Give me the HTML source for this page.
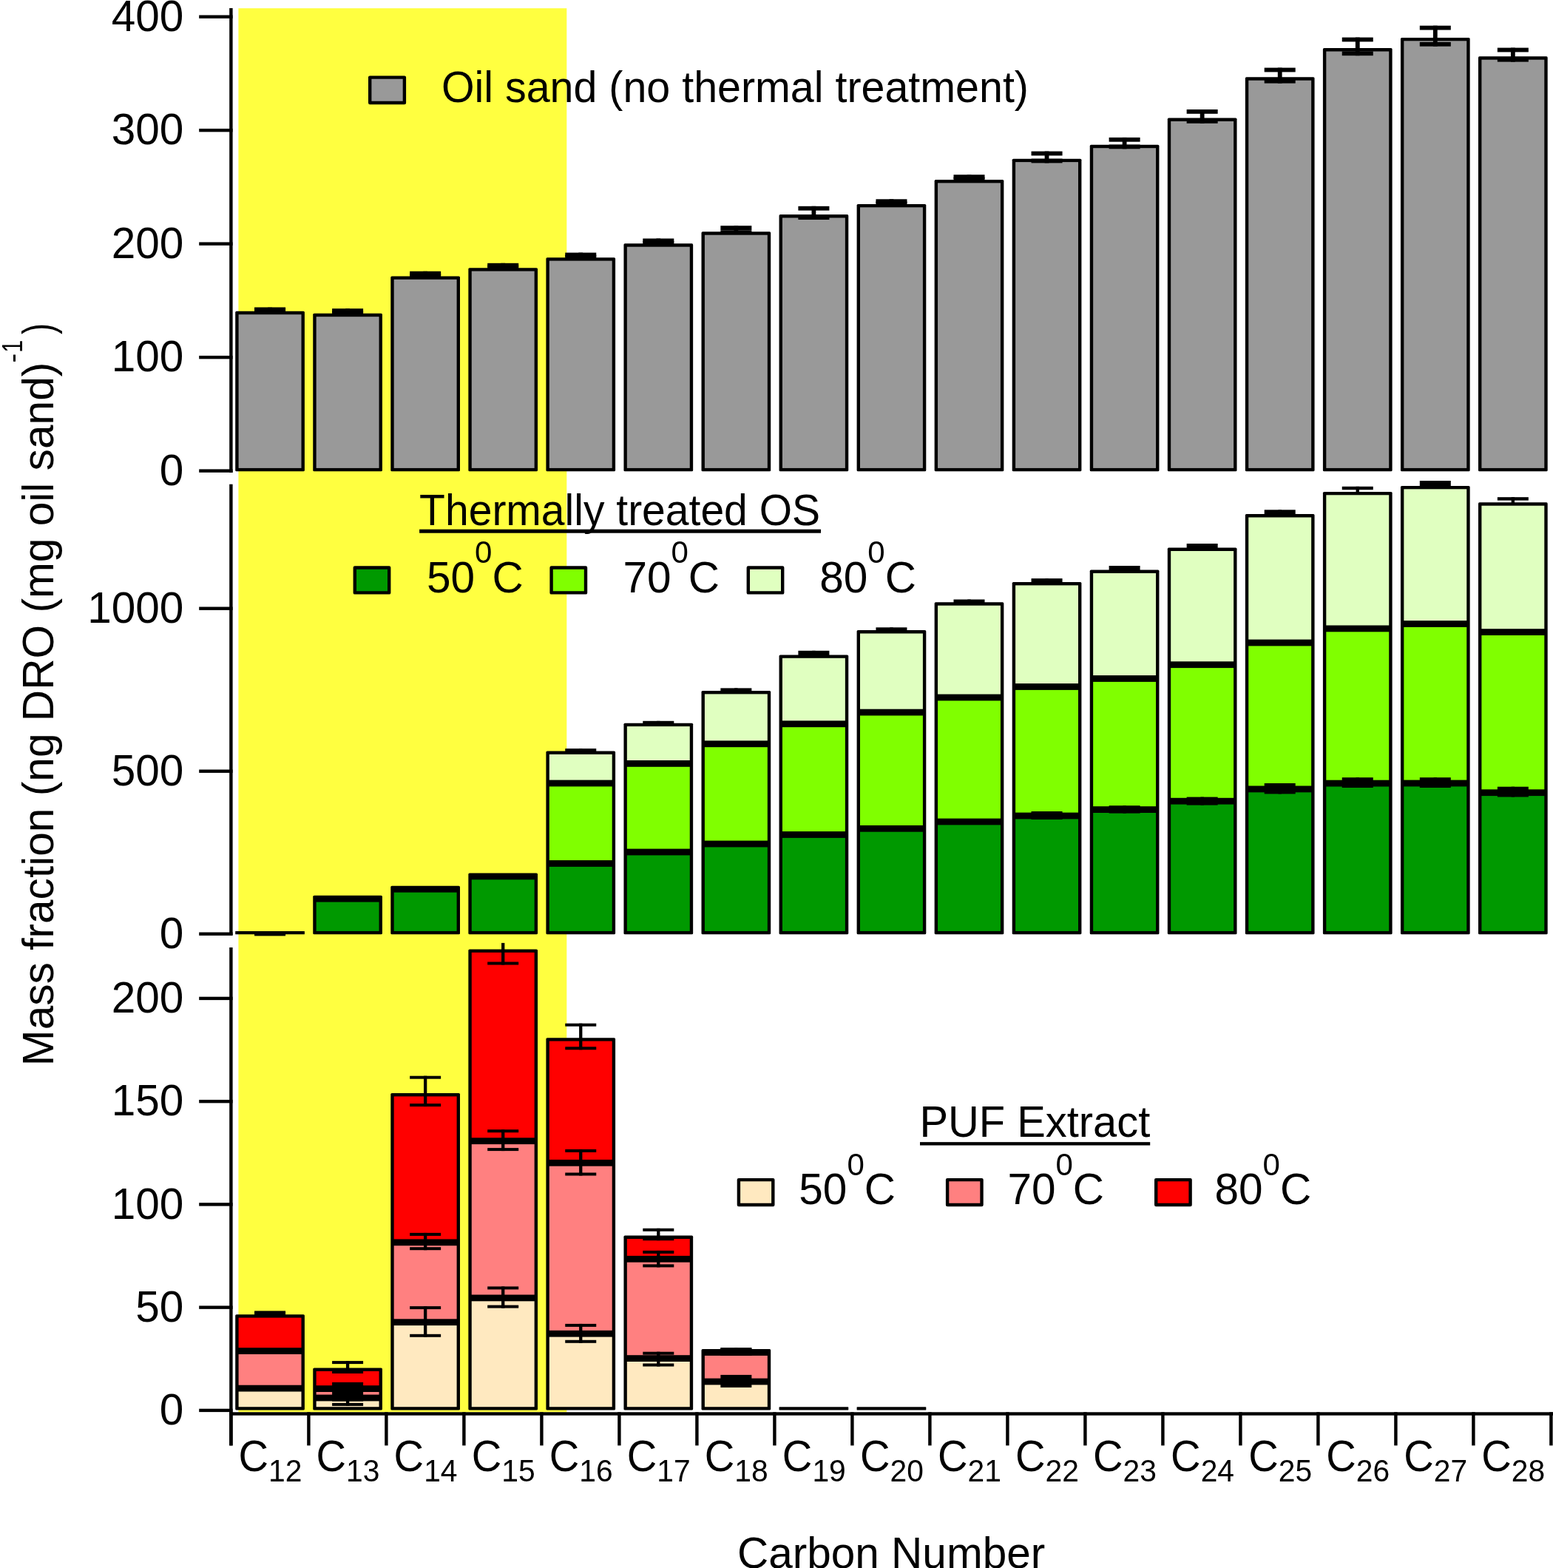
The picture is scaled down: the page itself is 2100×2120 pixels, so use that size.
<!DOCTYPE html><html><head><meta charset="utf-8"><title>Mass fraction chart</title><style>html,body{margin:0;padding:0;background:#fff;}svg{display:block;}</style></head><body><svg width="2100" height="2120" viewBox="0 0 2100 2120">
<rect x="0" y="0" width="2100" height="2120" fill="#fff"/>
<rect x="322.40" y="11.20" width="443.90" height="1898.30" fill="#FFFF40"/>
<rect x="318.20" y="420.80" width="93.70" height="216.50" rx="1.6" fill="#000"/>
<rect x="322.60" y="425.20" width="84.90" height="207.70" fill="#999999"/>
<rect x="423.25" y="423.80" width="93.70" height="213.50" rx="1.6" fill="#000"/>
<rect x="427.65" y="428.20" width="84.90" height="204.70" fill="#999999"/>
<rect x="528.30" y="373.40" width="93.70" height="263.90" rx="1.6" fill="#000"/>
<rect x="532.70" y="377.80" width="84.90" height="255.10" fill="#999999"/>
<rect x="633.35" y="362.20" width="93.70" height="275.10" rx="1.6" fill="#000"/>
<rect x="637.75" y="366.60" width="84.90" height="266.30" fill="#999999"/>
<rect x="738.40" y="348.20" width="93.70" height="289.10" rx="1.6" fill="#000"/>
<rect x="742.80" y="352.60" width="84.90" height="280.30" fill="#999999"/>
<rect x="843.45" y="329.30" width="93.70" height="308.00" rx="1.6" fill="#000"/>
<rect x="847.85" y="333.70" width="84.90" height="299.20" fill="#999999"/>
<rect x="948.50" y="313.30" width="93.70" height="324.00" rx="1.6" fill="#000"/>
<rect x="952.90" y="317.70" width="84.90" height="315.20" fill="#999999"/>
<rect x="1053.55" y="290.10" width="93.70" height="347.20" rx="1.6" fill="#000"/>
<rect x="1057.95" y="294.50" width="84.90" height="338.40" fill="#999999"/>
<rect x="1158.60" y="275.90" width="93.70" height="361.40" rx="1.6" fill="#000"/>
<rect x="1163.00" y="280.30" width="84.90" height="352.60" fill="#999999"/>
<rect x="1263.65" y="243.00" width="93.70" height="394.30" rx="1.6" fill="#000"/>
<rect x="1268.05" y="247.40" width="84.90" height="385.50" fill="#999999"/>
<rect x="1368.70" y="214.70" width="93.70" height="422.60" rx="1.6" fill="#000"/>
<rect x="1373.10" y="219.10" width="84.90" height="413.80" fill="#999999"/>
<rect x="1473.75" y="195.80" width="93.70" height="441.50" rx="1.6" fill="#000"/>
<rect x="1478.15" y="200.20" width="84.90" height="432.70" fill="#999999"/>
<rect x="1578.80" y="159.60" width="93.70" height="477.70" rx="1.6" fill="#000"/>
<rect x="1583.20" y="164.00" width="84.90" height="468.90" fill="#999999"/>
<rect x="1683.85" y="104.30" width="93.70" height="533.00" rx="1.6" fill="#000"/>
<rect x="1688.25" y="108.70" width="84.90" height="524.20" fill="#999999"/>
<rect x="1788.90" y="65.10" width="93.70" height="572.20" rx="1.6" fill="#000"/>
<rect x="1793.30" y="69.50" width="84.90" height="563.40" fill="#999999"/>
<rect x="1893.95" y="50.90" width="93.70" height="586.40" rx="1.6" fill="#000"/>
<rect x="1898.35" y="55.30" width="84.90" height="577.60" fill="#999999"/>
<rect x="1999.00" y="76.30" width="93.70" height="561.00" rx="1.6" fill="#000"/>
<rect x="2003.40" y="80.70" width="84.90" height="552.20" fill="#999999"/>
<rect x="362.15" y="415.70" width="5.80" height="5.80" fill="#000"/>
<rect x="344.05" y="415.70" width="42.00" height="5.80" fill="#000"/>
<rect x="344.05" y="415.70" width="42.00" height="5.80" fill="#000"/>
<rect x="467.20" y="417.20" width="5.80" height="8.80" fill="#000"/>
<rect x="449.10" y="417.20" width="42.00" height="5.80" fill="#000"/>
<rect x="449.10" y="420.20" width="42.00" height="5.80" fill="#000"/>
<rect x="572.25" y="366.80" width="5.80" height="8.80" fill="#000"/>
<rect x="554.15" y="366.80" width="42.00" height="5.80" fill="#000"/>
<rect x="554.15" y="369.80" width="42.00" height="5.80" fill="#000"/>
<rect x="677.30" y="355.80" width="5.80" height="8.40" fill="#000"/>
<rect x="659.20" y="355.80" width="42.00" height="5.80" fill="#000"/>
<rect x="659.20" y="358.40" width="42.00" height="5.80" fill="#000"/>
<rect x="782.35" y="341.60" width="5.80" height="8.80" fill="#000"/>
<rect x="764.25" y="341.60" width="42.00" height="5.80" fill="#000"/>
<rect x="764.25" y="344.60" width="42.00" height="5.80" fill="#000"/>
<rect x="887.40" y="322.50" width="5.80" height="9.20" fill="#000"/>
<rect x="869.30" y="322.50" width="42.00" height="5.80" fill="#000"/>
<rect x="869.30" y="325.90" width="42.00" height="5.80" fill="#000"/>
<rect x="992.45" y="305.20" width="5.80" height="11.80" fill="#000"/>
<rect x="974.35" y="305.20" width="42.00" height="5.80" fill="#000"/>
<rect x="974.35" y="311.20" width="42.00" height="5.80" fill="#000"/>
<rect x="1097.50" y="278.80" width="5.80" height="18.20" fill="#000"/>
<rect x="1079.40" y="278.80" width="42.00" height="5.80" fill="#000"/>
<rect x="1079.40" y="291.20" width="42.00" height="5.80" fill="#000"/>
<rect x="1202.55" y="269.30" width="5.80" height="8.80" fill="#000"/>
<rect x="1184.45" y="269.30" width="42.00" height="5.80" fill="#000"/>
<rect x="1184.45" y="272.30" width="42.00" height="5.80" fill="#000"/>
<rect x="1307.60" y="236.20" width="5.80" height="9.20" fill="#000"/>
<rect x="1289.50" y="236.20" width="42.00" height="5.80" fill="#000"/>
<rect x="1289.50" y="239.60" width="42.00" height="5.80" fill="#000"/>
<rect x="1412.65" y="204.60" width="5.80" height="15.80" fill="#000"/>
<rect x="1394.55" y="204.60" width="42.00" height="5.80" fill="#000"/>
<rect x="1394.55" y="214.60" width="42.00" height="5.80" fill="#000"/>
<rect x="1517.70" y="185.90" width="5.80" height="15.40" fill="#000"/>
<rect x="1499.60" y="185.90" width="42.00" height="5.80" fill="#000"/>
<rect x="1499.60" y="195.50" width="42.00" height="5.80" fill="#000"/>
<rect x="1622.75" y="148.00" width="5.80" height="18.80" fill="#000"/>
<rect x="1604.65" y="148.00" width="42.00" height="5.80" fill="#000"/>
<rect x="1604.65" y="161.00" width="42.00" height="5.80" fill="#000"/>
<rect x="1727.80" y="91.60" width="5.80" height="21.00" fill="#000"/>
<rect x="1709.70" y="91.60" width="42.00" height="5.80" fill="#000"/>
<rect x="1709.70" y="106.80" width="42.00" height="5.80" fill="#000"/>
<rect x="1832.85" y="50.60" width="5.80" height="24.60" fill="#000"/>
<rect x="1814.75" y="50.60" width="42.00" height="5.80" fill="#000"/>
<rect x="1814.75" y="69.40" width="42.00" height="5.80" fill="#000"/>
<rect x="1937.90" y="34.70" width="5.80" height="28.00" fill="#000"/>
<rect x="1919.80" y="34.70" width="42.00" height="5.80" fill="#000"/>
<rect x="1919.80" y="56.90" width="42.00" height="5.80" fill="#000"/>
<rect x="2042.95" y="64.60" width="5.80" height="19.00" fill="#000"/>
<rect x="2024.85" y="64.60" width="42.00" height="5.80" fill="#000"/>
<rect x="2024.85" y="77.80" width="42.00" height="5.80" fill="#000"/>
<rect x="318.20" y="1258.90" width="93.70" height="4.40" rx="0.6" fill="#000"/>
<rect x="344.05" y="1262.0" width="42" height="3.4" fill="#000"/>
<rect x="423.25" y="1210.80" width="93.70" height="52.50" rx="1.6" fill="#000"/>
<rect x="427.65" y="1219.60" width="84.90" height="39.30" fill="#009900"/>
<rect x="528.30" y="1197.80" width="93.70" height="65.50" rx="1.6" fill="#000"/>
<rect x="532.70" y="1206.60" width="84.90" height="52.30" fill="#009900"/>
<rect x="633.35" y="1180.50" width="93.70" height="82.80" rx="1.6" fill="#000"/>
<rect x="637.75" y="1189.30" width="84.90" height="69.60" fill="#009900"/>
<rect x="738.40" y="1015.50" width="93.70" height="247.80" rx="1.6" fill="#000"/>
<rect x="742.80" y="1171.90" width="84.90" height="87.00" fill="#009900"/>
<rect x="742.80" y="1063.40" width="84.90" height="99.70" fill="#80FF00"/>
<rect x="742.80" y="1019.90" width="84.90" height="34.70" fill="#E0FFC0"/>
<rect x="843.45" y="977.70" width="93.70" height="285.60" rx="1.6" fill="#000"/>
<rect x="847.85" y="1156.40" width="84.90" height="102.50" fill="#009900"/>
<rect x="847.85" y="1036.80" width="84.90" height="110.80" fill="#80FF00"/>
<rect x="847.85" y="982.10" width="84.90" height="45.90" fill="#E0FFC0"/>
<rect x="948.50" y="934.00" width="93.70" height="329.30" rx="1.6" fill="#000"/>
<rect x="952.90" y="1145.40" width="84.90" height="113.50" fill="#009900"/>
<rect x="952.90" y="1010.20" width="84.90" height="126.40" fill="#80FF00"/>
<rect x="952.90" y="938.40" width="84.90" height="63.00" fill="#E0FFC0"/>
<rect x="1053.55" y="885.40" width="93.70" height="377.90" rx="1.6" fill="#000"/>
<rect x="1057.95" y="1132.90" width="84.90" height="126.00" fill="#009900"/>
<rect x="1057.95" y="983.20" width="84.90" height="140.90" fill="#80FF00"/>
<rect x="1057.95" y="889.80" width="84.90" height="84.60" fill="#E0FFC0"/>
<rect x="1158.60" y="852.10" width="93.70" height="411.20" rx="1.6" fill="#000"/>
<rect x="1163.00" y="1124.70" width="84.90" height="134.20" fill="#009900"/>
<rect x="1163.00" y="967.50" width="84.90" height="148.40" fill="#80FF00"/>
<rect x="1163.00" y="856.50" width="84.90" height="102.20" fill="#E0FFC0"/>
<rect x="1263.65" y="814.30" width="93.70" height="449.00" rx="1.6" fill="#000"/>
<rect x="1268.05" y="1115.40" width="84.90" height="143.50" fill="#009900"/>
<rect x="1268.05" y="947.40" width="84.90" height="159.20" fill="#80FF00"/>
<rect x="1268.05" y="818.70" width="84.90" height="119.90" fill="#E0FFC0"/>
<rect x="1368.70" y="787.00" width="93.70" height="476.30" rx="1.6" fill="#000"/>
<rect x="1373.10" y="1107.40" width="84.90" height="151.50" fill="#009900"/>
<rect x="1373.10" y="932.90" width="84.90" height="165.70" fill="#80FF00"/>
<rect x="1373.10" y="791.40" width="84.90" height="132.70" fill="#E0FFC0"/>
<rect x="1473.75" y="770.60" width="93.70" height="492.70" rx="1.6" fill="#000"/>
<rect x="1478.15" y="1099.00" width="84.90" height="159.90" fill="#009900"/>
<rect x="1478.15" y="921.90" width="84.90" height="168.30" fill="#80FF00"/>
<rect x="1478.15" y="775.00" width="84.90" height="138.10" fill="#E0FFC0"/>
<rect x="1578.80" y="740.60" width="93.70" height="522.70" rx="1.6" fill="#000"/>
<rect x="1583.20" y="1087.60" width="84.90" height="171.30" fill="#009900"/>
<rect x="1583.20" y="903.10" width="84.90" height="175.70" fill="#80FF00"/>
<rect x="1583.20" y="745.00" width="84.90" height="149.30" fill="#E0FFC0"/>
<rect x="1683.85" y="695.10" width="93.70" height="568.20" rx="1.6" fill="#000"/>
<rect x="1688.25" y="1071.30" width="84.90" height="187.60" fill="#009900"/>
<rect x="1688.25" y="873.40" width="84.90" height="189.10" fill="#80FF00"/>
<rect x="1688.25" y="699.50" width="84.90" height="165.10" fill="#E0FFC0"/>
<rect x="1788.90" y="664.90" width="93.70" height="598.40" rx="1.6" fill="#000"/>
<rect x="1793.30" y="1063.50" width="84.90" height="195.40" fill="#009900"/>
<rect x="1793.30" y="854.30" width="84.90" height="200.40" fill="#80FF00"/>
<rect x="1793.30" y="669.30" width="84.90" height="176.20" fill="#E0FFC0"/>
<rect x="1893.95" y="656.90" width="93.70" height="606.40" rx="1.6" fill="#000"/>
<rect x="1898.35" y="1063.40" width="84.90" height="195.50" fill="#009900"/>
<rect x="1898.35" y="847.90" width="84.90" height="206.70" fill="#80FF00"/>
<rect x="1898.35" y="661.30" width="84.90" height="177.80" fill="#E0FFC0"/>
<rect x="1999.00" y="679.30" width="93.70" height="584.00" rx="1.6" fill="#000"/>
<rect x="2003.40" y="1076.10" width="84.90" height="182.80" fill="#009900"/>
<rect x="2003.40" y="859.00" width="84.90" height="208.30" fill="#80FF00"/>
<rect x="2003.40" y="683.70" width="84.90" height="166.50" fill="#E0FFC0"/>
<rect x="783.05" y="1012.10" width="4.4" height="5.40" fill="#000"/>
<rect x="764.25" y="1012.10" width="42" height="4.40" fill="#000"/>
<rect x="888.10" y="974.80" width="4.4" height="4.90" fill="#000"/>
<rect x="869.30" y="974.80" width="42" height="3.90" fill="#000"/>
<rect x="993.15" y="930.40" width="4.4" height="5.60" fill="#000"/>
<rect x="974.35" y="930.40" width="42" height="4.60" fill="#000"/>
<rect x="1098.20" y="879.80" width="4.4" height="7.60" fill="#000"/>
<rect x="1079.40" y="879.80" width="42" height="6.60" fill="#000"/>
<rect x="1203.25" y="848.30" width="4.4" height="5.80" fill="#000"/>
<rect x="1184.45" y="848.30" width="42" height="4.80" fill="#000"/>
<rect x="1308.30" y="810.50" width="4.4" height="5.80" fill="#000"/>
<rect x="1289.50" y="810.50" width="42" height="4.80" fill="#000"/>
<rect x="1413.35" y="782.10" width="4.4" height="6.90" fill="#000"/>
<rect x="1394.55" y="782.10" width="42" height="5.90" fill="#000"/>
<rect x="1518.40" y="765.00" width="4.4" height="7.60" fill="#000"/>
<rect x="1499.60" y="765.00" width="42" height="6.60" fill="#000"/>
<rect x="1623.45" y="735.00" width="4.4" height="7.60" fill="#000"/>
<rect x="1604.65" y="735.00" width="42" height="6.60" fill="#000"/>
<rect x="1728.50" y="689.30" width="4.4" height="7.80" fill="#000"/>
<rect x="1709.70" y="689.30" width="42" height="6.80" fill="#000"/>
<rect x="1833.55" y="657.80" width="4.4" height="9.10" fill="#000"/>
<rect x="1814.75" y="657.80" width="42" height="4.40" fill="#000"/>
<rect x="1938.60" y="650.00" width="4.4" height="8.90" fill="#000"/>
<rect x="1919.80" y="650.00" width="42" height="7.90" fill="#000"/>
<rect x="2043.65" y="672.20" width="4.4" height="9.10" fill="#000"/>
<rect x="2024.85" y="672.20" width="42" height="4.40" fill="#000"/>
<rect x="1413.35" y="1097.00" width="4.40" height="11.00" fill="#000"/>
<rect x="1394.55" y="1097.00" width="42.00" height="4.40" fill="#000"/>
<rect x="1394.55" y="1103.60" width="42.00" height="4.40" fill="#000"/>
<rect x="1518.40" y="1089.20" width="4.40" height="10.40" fill="#000"/>
<rect x="1499.60" y="1089.20" width="42.00" height="4.40" fill="#000"/>
<rect x="1499.60" y="1095.20" width="42.00" height="4.40" fill="#000"/>
<rect x="1623.45" y="1077.60" width="4.40" height="11.00" fill="#000"/>
<rect x="1604.65" y="1077.60" width="42.00" height="4.40" fill="#000"/>
<rect x="1604.65" y="1084.20" width="42.00" height="4.40" fill="#000"/>
<rect x="1728.50" y="1059.00" width="4.40" height="14.40" fill="#000"/>
<rect x="1709.70" y="1059.00" width="42.00" height="4.40" fill="#000"/>
<rect x="1709.70" y="1069.00" width="42.00" height="4.40" fill="#000"/>
<rect x="1833.55" y="1051.20" width="4.40" height="13.80" fill="#000"/>
<rect x="1814.75" y="1051.20" width="42.00" height="4.40" fill="#000"/>
<rect x="1814.75" y="1060.60" width="42.00" height="4.40" fill="#000"/>
<rect x="1938.60" y="1051.20" width="4.40" height="13.80" fill="#000"/>
<rect x="1919.80" y="1051.20" width="42.00" height="4.40" fill="#000"/>
<rect x="1919.80" y="1060.60" width="42.00" height="4.40" fill="#000"/>
<rect x="2043.65" y="1063.70" width="4.40" height="13.80" fill="#000"/>
<rect x="2024.85" y="1063.70" width="42.00" height="4.40" fill="#000"/>
<rect x="2024.85" y="1073.10" width="42.00" height="4.40" fill="#000"/>
<rect x="318.20" y="1777.20" width="93.70" height="129.40" rx="1.6" fill="#000"/>
<rect x="322.60" y="1881.50" width="84.90" height="20.70" fill="#FFE9C0"/>
<rect x="322.60" y="1831.00" width="84.90" height="41.70" fill="#FF8080"/>
<rect x="322.60" y="1781.60" width="84.90" height="40.60" fill="#FF0000"/>
<rect x="423.25" y="1849.50" width="93.70" height="57.10" rx="1.6" fill="#000"/>
<rect x="427.65" y="1894.40" width="84.90" height="7.80" fill="#FFE9C0"/>
<rect x="427.65" y="1882.00" width="84.90" height="3.60" fill="#FF8080"/>
<rect x="427.65" y="1853.90" width="84.90" height="19.30" fill="#FF0000"/>
<rect x="528.30" y="1478.00" width="93.70" height="428.60" rx="1.6" fill="#000"/>
<rect x="532.70" y="1792.10" width="84.90" height="110.10" fill="#FFE9C0"/>
<rect x="532.70" y="1684.20" width="84.90" height="99.10" fill="#FF8080"/>
<rect x="532.70" y="1482.40" width="84.90" height="193.00" fill="#FF0000"/>
<rect x="633.35" y="1283.40" width="93.70" height="623.20" rx="1.6" fill="#000"/>
<rect x="637.75" y="1759.30" width="84.90" height="142.90" fill="#FFE9C0"/>
<rect x="637.75" y="1547.10" width="84.90" height="203.40" fill="#FF8080"/>
<rect x="637.75" y="1287.80" width="84.90" height="250.50" fill="#FF0000"/>
<rect x="738.40" y="1403.20" width="93.70" height="503.40" rx="1.6" fill="#000"/>
<rect x="742.80" y="1807.60" width="84.90" height="94.60" fill="#FFE9C0"/>
<rect x="742.80" y="1576.70" width="84.90" height="222.10" fill="#FF8080"/>
<rect x="742.80" y="1407.60" width="84.90" height="160.30" fill="#FF0000"/>
<rect x="843.45" y="1670.60" width="93.70" height="236.00" rx="1.6" fill="#000"/>
<rect x="847.85" y="1841.00" width="84.90" height="61.20" fill="#FFE9C0"/>
<rect x="847.85" y="1706.70" width="84.90" height="125.50" fill="#FF8080"/>
<rect x="847.85" y="1675.00" width="84.90" height="22.90" fill="#FF0000"/>
<rect x="948.50" y="1824.10" width="93.70" height="82.50" rx="1.6" fill="#000"/>
<rect x="952.90" y="1872.40" width="84.90" height="29.80" fill="#FFE9C0"/>
<rect x="952.90" y="1832.90" width="84.90" height="30.70" fill="#FF8080"/>
<rect x="1053.55" y="1902.20" width="93.70" height="4.40" rx="0.6" fill="#000"/>
<rect x="1158.60" y="1902.20" width="93.70" height="4.40" rx="0.6" fill="#000"/>
<rect x="362.90" y="1774.00" width="4.30" height="2.40" fill="#000"/>
<rect x="344.05" y="1774.00" width="42.00" height="4.00" fill="#000"/>
<rect x="344.05" y="1772.40" width="42.00" height="4.00" fill="#000"/>
<rect x="467.95" y="1840.10" width="4.30" height="16.90" fill="#000"/>
<rect x="449.10" y="1840.10" width="42.00" height="4.00" fill="#000"/>
<rect x="449.10" y="1853.00" width="42.00" height="4.00" fill="#000"/>
<rect x="467.95" y="1878.00" width="4.30" height="22.90" fill="#000"/>
<rect x="449.10" y="1878.00" width="42.00" height="4.00" fill="#000"/>
<rect x="449.10" y="1896.90" width="42.00" height="4.00" fill="#000"/>
<rect x="573.00" y="1454.70" width="4.30" height="41.40" fill="#000"/>
<rect x="554.15" y="1454.70" width="42.00" height="4.00" fill="#000"/>
<rect x="554.15" y="1492.10" width="42.00" height="4.00" fill="#000"/>
<rect x="573.00" y="1666.90" width="4.30" height="23.30" fill="#000"/>
<rect x="554.15" y="1666.90" width="42.00" height="4.00" fill="#000"/>
<rect x="554.15" y="1686.20" width="42.00" height="4.00" fill="#000"/>
<rect x="573.00" y="1766.10" width="4.30" height="41.70" fill="#000"/>
<rect x="554.15" y="1766.10" width="42.00" height="4.00" fill="#000"/>
<rect x="554.15" y="1803.80" width="42.00" height="4.00" fill="#000"/>
<rect x="678.05" y="1274.90" width="4.30" height="29.60" fill="#000"/>
<rect x="659.20" y="1300.50" width="42.00" height="4.00" fill="#000"/>
<rect x="678.05" y="1527.20" width="4.30" height="28.90" fill="#000"/>
<rect x="659.20" y="1527.20" width="42.00" height="4.00" fill="#000"/>
<rect x="659.20" y="1552.10" width="42.00" height="4.00" fill="#000"/>
<rect x="678.05" y="1739.40" width="4.30" height="29.20" fill="#000"/>
<rect x="659.20" y="1739.40" width="42.00" height="4.00" fill="#000"/>
<rect x="659.20" y="1764.60" width="42.00" height="4.00" fill="#000"/>
<rect x="783.10" y="1383.70" width="4.30" height="35.60" fill="#000"/>
<rect x="764.25" y="1383.70" width="42.00" height="4.00" fill="#000"/>
<rect x="764.25" y="1415.30" width="42.00" height="4.00" fill="#000"/>
<rect x="783.10" y="1553.90" width="4.30" height="35.60" fill="#000"/>
<rect x="764.25" y="1553.90" width="42.00" height="4.00" fill="#000"/>
<rect x="764.25" y="1585.50" width="42.00" height="4.00" fill="#000"/>
<rect x="783.10" y="1789.90" width="4.30" height="25.90" fill="#000"/>
<rect x="764.25" y="1789.90" width="42.00" height="4.00" fill="#000"/>
<rect x="764.25" y="1811.80" width="42.00" height="4.00" fill="#000"/>
<rect x="888.15" y="1660.80" width="4.30" height="16.40" fill="#000"/>
<rect x="869.30" y="1660.80" width="42.00" height="4.00" fill="#000"/>
<rect x="869.30" y="1673.20" width="42.00" height="4.00" fill="#000"/>
<rect x="888.15" y="1690.90" width="4.30" height="22.50" fill="#000"/>
<rect x="869.30" y="1690.90" width="42.00" height="4.00" fill="#000"/>
<rect x="869.30" y="1709.40" width="42.00" height="4.00" fill="#000"/>
<rect x="888.15" y="1827.70" width="4.30" height="19.80" fill="#000"/>
<rect x="869.30" y="1827.70" width="42.00" height="4.00" fill="#000"/>
<rect x="869.30" y="1843.50" width="42.00" height="4.00" fill="#000"/>
<rect x="993.20" y="1822.30" width="4.30" height="10.70" fill="#000"/>
<rect x="974.35" y="1822.30" width="42.00" height="4.00" fill="#000"/>
<rect x="974.35" y="1829.00" width="42.00" height="4.00" fill="#000"/>
<rect x="449.10" y="1868.9" width="42" height="25.70" fill="#000"/>
<rect x="974.35" y="1858.9" width="42" height="17.00" fill="#000"/>
<rect x="974.35" y="1822.3" width="42" height="10.70" fill="#000"/>
<rect x="310.20" y="11.00" width="4.40" height="628.00" fill="#000"/>
<rect x="310.20" y="654.70" width="4.40" height="609.60" fill="#000"/>
<rect x="310.20" y="1281.00" width="4.40" height="673.40" fill="#000"/>
<rect x="269.20" y="634.40" width="45.40" height="4.40" fill="#000"/>
<rect x="269.20" y="480.92" width="45.40" height="4.40" fill="#000"/>
<rect x="269.20" y="327.44" width="45.40" height="4.40" fill="#000"/>
<rect x="269.20" y="173.96" width="45.40" height="4.40" fill="#000"/>
<rect x="269.20" y="20.48" width="45.40" height="4.40" fill="#000"/>
<rect x="269.20" y="1260.50" width="45.40" height="4.40" fill="#000"/>
<rect x="269.20" y="1040.50" width="45.40" height="4.40" fill="#000"/>
<rect x="269.20" y="820.50" width="45.40" height="4.40" fill="#000"/>
<rect x="269.20" y="1904.70" width="45.40" height="4.40" fill="#000"/>
<rect x="269.20" y="1765.45" width="45.40" height="4.40" fill="#000"/>
<rect x="269.20" y="1626.20" width="45.40" height="4.40" fill="#000"/>
<rect x="269.20" y="1486.95" width="45.40" height="4.40" fill="#000"/>
<rect x="269.20" y="1347.70" width="45.40" height="4.40" fill="#000"/>
<rect x="310.20" y="1909.30" width="1789.80" height="4.40" fill="#000"/>
<rect x="310.20" y="1909.30" width="4.40" height="45.10" fill="#000"/>
<rect x="415.20" y="1909.30" width="4.40" height="45.10" fill="#000"/>
<rect x="520.20" y="1909.30" width="4.40" height="45.10" fill="#000"/>
<rect x="625.20" y="1909.30" width="4.40" height="45.10" fill="#000"/>
<rect x="730.20" y="1909.30" width="4.40" height="45.10" fill="#000"/>
<rect x="835.20" y="1909.30" width="4.40" height="45.10" fill="#000"/>
<rect x="940.20" y="1909.30" width="4.40" height="45.10" fill="#000"/>
<rect x="1045.20" y="1909.30" width="4.40" height="45.10" fill="#000"/>
<rect x="1150.20" y="1909.30" width="4.40" height="45.10" fill="#000"/>
<rect x="1255.20" y="1909.30" width="4.40" height="45.10" fill="#000"/>
<rect x="1360.20" y="1909.30" width="4.40" height="45.10" fill="#000"/>
<rect x="1465.20" y="1909.30" width="4.40" height="45.10" fill="#000"/>
<rect x="1570.20" y="1909.30" width="4.40" height="45.10" fill="#000"/>
<rect x="1675.20" y="1909.30" width="4.40" height="45.10" fill="#000"/>
<rect x="1780.20" y="1909.30" width="4.40" height="45.10" fill="#000"/>
<rect x="1885.20" y="1909.30" width="4.40" height="45.10" fill="#000"/>
<rect x="1990.20" y="1909.30" width="4.40" height="45.10" fill="#000"/>
<rect x="2095.20" y="1909.30" width="4.40" height="45.10" fill="#000"/>
<g font-family='"Liberation Sans", Arial, sans-serif' font-size="58.5" fill="#000">
<text x="248.3" y="655.80" text-anchor="end">0</text>
<text x="248.3" y="502.32" text-anchor="end">100</text>
<text x="248.3" y="348.84" text-anchor="end">200</text>
<text x="248.3" y="195.36" text-anchor="end">300</text>
<text x="248.3" y="41.88" text-anchor="end">400</text>
<text x="248.3" y="1281.90" text-anchor="end">0</text>
<text x="248.3" y="1061.90" text-anchor="end">500</text>
<text x="248.3" y="841.90" text-anchor="end">1000</text>
<text x="248.3" y="1926.10" text-anchor="end">0</text>
<text x="248.3" y="1786.85" text-anchor="end">50</text>
<text x="248.3" y="1647.60" text-anchor="end">100</text>
<text x="248.3" y="1508.35" text-anchor="end">150</text>
<text x="248.3" y="1369.10" text-anchor="end">200</text>
<text transform="translate(365.45,1988.7) scale(0.96,1)" text-anchor="middle">C<tspan font-size="42.5" dy="14.5">12</tspan></text>
<text transform="translate(470.50,1988.7) scale(0.96,1)" text-anchor="middle">C<tspan font-size="42.5" dy="14.5">13</tspan></text>
<text transform="translate(575.55,1988.7) scale(0.96,1)" text-anchor="middle">C<tspan font-size="42.5" dy="14.5">14</tspan></text>
<text transform="translate(680.60,1988.7) scale(0.96,1)" text-anchor="middle">C<tspan font-size="42.5" dy="14.5">15</tspan></text>
<text transform="translate(785.65,1988.7) scale(0.96,1)" text-anchor="middle">C<tspan font-size="42.5" dy="14.5">16</tspan></text>
<text transform="translate(890.70,1988.7) scale(0.96,1)" text-anchor="middle">C<tspan font-size="42.5" dy="14.5">17</tspan></text>
<text transform="translate(995.75,1988.7) scale(0.96,1)" text-anchor="middle">C<tspan font-size="42.5" dy="14.5">18</tspan></text>
<text transform="translate(1100.80,1988.7) scale(0.96,1)" text-anchor="middle">C<tspan font-size="42.5" dy="14.5">19</tspan></text>
<text transform="translate(1205.85,1988.7) scale(0.96,1)" text-anchor="middle">C<tspan font-size="42.5" dy="14.5">20</tspan></text>
<text transform="translate(1310.90,1988.7) scale(0.96,1)" text-anchor="middle">C<tspan font-size="42.5" dy="14.5">21</tspan></text>
<text transform="translate(1415.95,1988.7) scale(0.96,1)" text-anchor="middle">C<tspan font-size="42.5" dy="14.5">22</tspan></text>
<text transform="translate(1521.00,1988.7) scale(0.96,1)" text-anchor="middle">C<tspan font-size="42.5" dy="14.5">23</tspan></text>
<text transform="translate(1626.05,1988.7) scale(0.96,1)" text-anchor="middle">C<tspan font-size="42.5" dy="14.5">24</tspan></text>
<text transform="translate(1731.10,1988.7) scale(0.96,1)" text-anchor="middle">C<tspan font-size="42.5" dy="14.5">25</tspan></text>
<text transform="translate(1836.15,1988.7) scale(0.96,1)" text-anchor="middle">C<tspan font-size="42.5" dy="14.5">26</tspan></text>
<text transform="translate(1941.20,1988.7) scale(0.96,1)" text-anchor="middle">C<tspan font-size="42.5" dy="14.5">27</tspan></text>
<text transform="translate(2046.25,1988.7) scale(0.96,1)" text-anchor="middle">C<tspan font-size="42.5" dy="14.5">28</tspan></text>
<text x="997" y="2119.7">Carbon Number</text>
<text transform="translate(72.3,1441.2) rotate(-90) scale(1.0025,1.0)" x="0" y="0">Mass fraction (ng DRO (mg oil sand)</text>
<text transform="translate(30.2,490.6) rotate(-90)" font-size="38">-</text>
<text transform="translate(30.2,476.7) rotate(-90) scale(0.8,1)" font-size="38">1</text>
<text transform="translate(72.3,451.9) rotate(-90) scale(0.78,1)">)</text>
<rect x="500.2" y="104.6" width="46.7" height="34.4" fill="#999999" stroke="#000" stroke-width="4.4" stroke-linejoin="round"/>
<text transform="translate(596.88,137.90) scale(0.9810,1.0200)">Oil sand (no thermal treatment)</text>
<text transform="translate(567.11,710.10) scale(0.9750,1.0200)">Thermally treated OS</text>
<rect x="567.10" y="715.70" width="542.90" height="5.00" fill="#000"/>
<rect x="479.80" y="767.50" width="46.40" height="33.90" fill="#009900" stroke="#000" stroke-width="4.4" stroke-linejoin="round"/>
<text x="577.00" y="800.50">50<tspan font-size="42" dy="-39.1">0</tspan><tspan dy="39.1">C</tspan></text>
<rect x="745.60" y="767.50" width="46.40" height="33.90" fill="#80FF00" stroke="#000" stroke-width="4.4" stroke-linejoin="round"/>
<text x="842.40" y="800.50">70<tspan font-size="42" dy="-39.1">0</tspan><tspan dy="39.1">C</tspan></text>
<rect x="1011.80" y="767.50" width="46.40" height="33.90" fill="#E0FFC0" stroke="#000" stroke-width="4.4" stroke-linejoin="round"/>
<text x="1108.20" y="800.50">80<tspan font-size="42" dy="-39.1">0</tspan><tspan dy="39.1">C</tspan></text>
<text transform="translate(1243.45,1537.40) scale(0.9890,1.0200)">PUF Extract</text>
<rect x="1244.00" y="1544.15" width="311.20" height="4.40" fill="#000"/>
<rect x="998.90" y="1595.10" width="46.40" height="33.90" fill="#FFE9C0" stroke="#000" stroke-width="4.4" stroke-linejoin="round"/>
<text x="1080.30" y="1628.00">50<tspan font-size="42" dy="-39.1">0</tspan><tspan dy="39.1">C</tspan></text>
<rect x="1281.10" y="1595.10" width="46.40" height="33.90" fill="#FF8080" stroke="#000" stroke-width="4.4" stroke-linejoin="round"/>
<text x="1362.40" y="1628.00">70<tspan font-size="42" dy="-39.1">0</tspan><tspan dy="39.1">C</tspan></text>
<rect x="1563.20" y="1595.10" width="46.40" height="33.90" fill="#FF0000" stroke="#000" stroke-width="4.4" stroke-linejoin="round"/>
<text x="1642.50" y="1628.00">80<tspan font-size="42" dy="-39.1">0</tspan><tspan dy="39.1">C</tspan></text>
</g>
</svg></body></html>
